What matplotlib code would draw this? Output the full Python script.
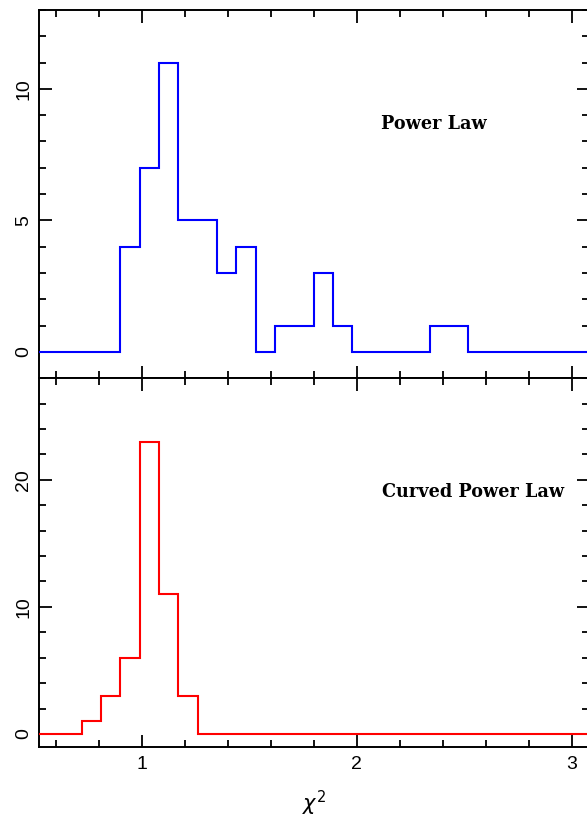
import numpy as np
import matplotlib
matplotlib.use("Agg")
import matplotlib.pyplot as plt
from matplotlib.ticker import MultipleLocator

# histogram bins: start and width of the chi^2 bins
bin_start = 0.45
bin_width = 0.09

# counts per bin, first bin starts at bin_start
power_law_counts = [0, 0, 0, 0, 0, 4, 7, 11, 5, 5, 3, 4, 0, 1, 1, 3, 1,
                    0, 0, 0, 0, 1, 1, 0, 0, 0, 0, 0, 0, 0, 0]
curved_counts = [0, 0, 0, 1, 3, 6, 23, 11, 3, 0, 0, 0, 0, 0, 0, 0, 0,
                 0, 0, 0, 0, 0, 0, 0, 0, 0, 0, 0, 0, 0, 0]

labels = ["Power Law", "Curved Power Law"]
colors = ["#0000ff", "#ff0000"]

plt.rcParams["font.family"] = ["Liberation Sans", "DejaVu Sans"]


def style_axis(ax, ymajor, yminor):
    ax.xaxis.set_major_locator(MultipleLocator(1))
    ax.xaxis.set_minor_locator(MultipleLocator(0.2))
    ax.yaxis.set_major_locator(MultipleLocator(ymajor))
    ax.yaxis.set_minor_locator(MultipleLocator(yminor))
    ax.tick_params(which="both", direction="in", top=True, right=True, width=1.3)
    ax.tick_params(which="major", length=9, labelsize=14)
    ax.tick_params(which="minor", length=5)
    for lab in ax.get_yticklabels():
        lab.set_rotation(90)
        lab.set_va("center")
    for sp in ax.spines.values():
        sp.set_linewidth(1.4)


def make_figure():
    fig = plt.figure(figsize=(5.87, 8.22), dpi=100)
    left, right = 0.0664, 1.003
    ax1 = fig.add_axes([left, 0.540, right - left, 0.9878 - 0.540])
    ax2 = fig.add_axes([left, 0.0916, right - left, 0.540 - 0.0916], sharex=ax1)

    edges = bin_start + bin_width * np.arange(len(power_law_counts) + 1)

    ax1.stairs(power_law_counts, edges, color=colors[0], linewidth=1.5, zorder=3)
    ax2.stairs(curved_counts, edges, color=colors[1], linewidth=1.5, zorder=3)

    ax1.set_xlim(0.522, 3.08)
    ax1.set_ylim(-1, 13)
    ax2.set_ylim(-1, 28)

    style_axis(ax1, 5, 1)
    style_axis(ax2, 10, 2)
    ax1.tick_params(labelbottom=False)

    txt = dict(fontsize=12.7, family="DejaVu Serif", weight="bold",
               ha="left", va="center")
    ax1.text(2.115, 8.65, labels[0], **txt)
    ax2.text(2.12, 19.05, labels[1], **txt)

    ax2.set_xlabel(r"$\chi^2$", fontsize=15, labelpad=11)
    ax2.tick_params(axis="x", pad=7)
    ax1.tick_params(axis="y", pad=5)
    ax2.tick_params(axis="y", pad=5)
    return fig


fig = make_figure()
fig.savefig("out.png", dpi=100)
